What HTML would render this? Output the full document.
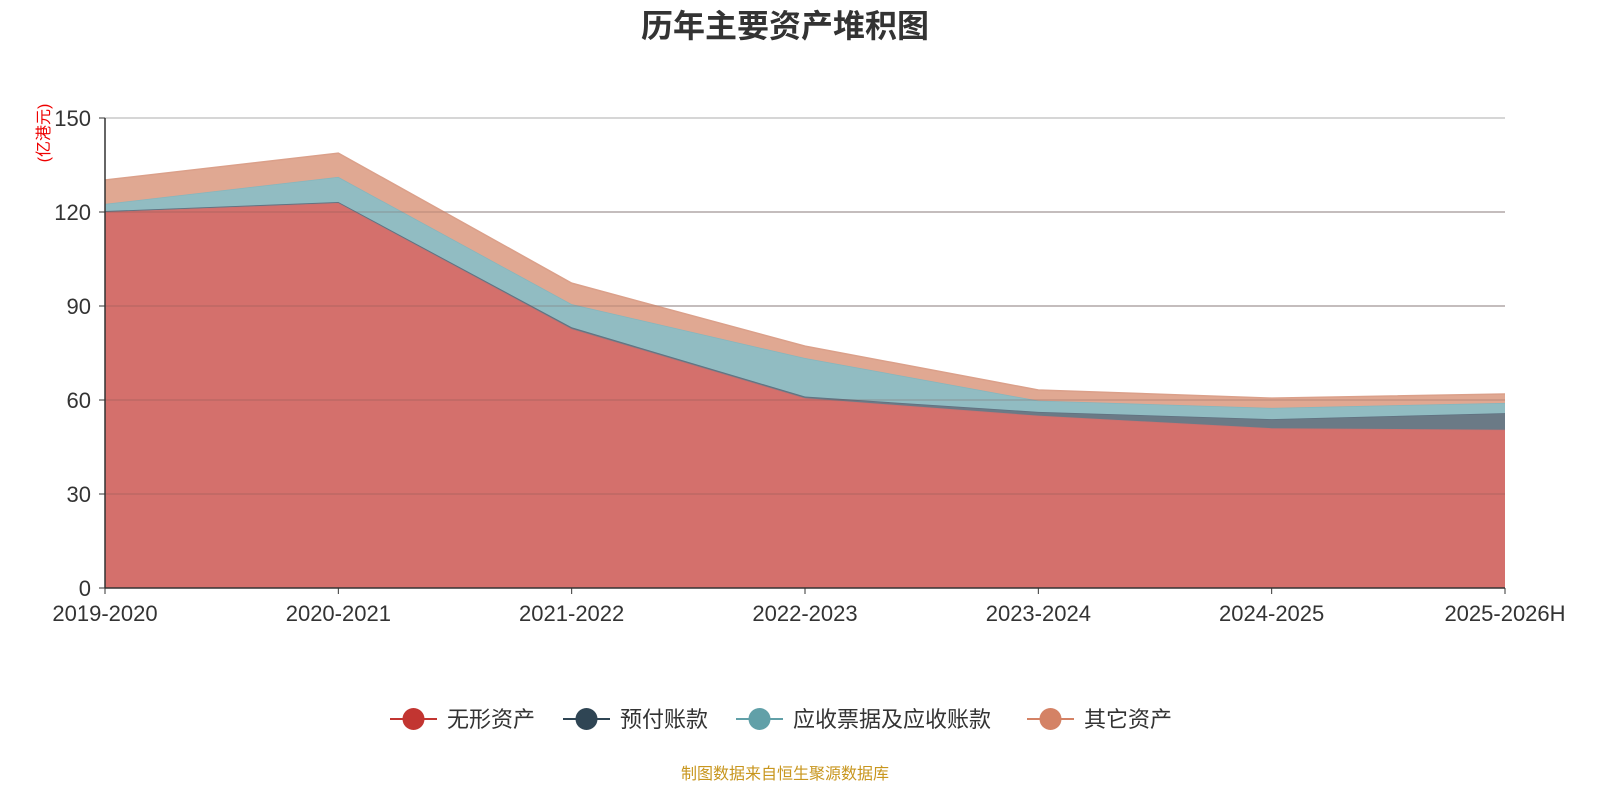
<!DOCTYPE html>
<html><head><meta charset="utf-8"><style>
body{margin:0;background:#fff;width:1600px;height:800px;overflow:hidden;font-family:"Liberation Sans","Noto Sans CJK SC",sans-serif}
</style></head><body>
<svg id="chart" width="1600" height="800" xmlns="http://www.w3.org/2000/svg" font-family="Liberation Sans, Noto Sans CJK SC, sans-serif">
<text x="785" y="37" text-anchor="middle" font-size="32" font-weight="bold" fill="#333">历年主要资产堆积图</text>
<text transform="translate(49,133) rotate(-90)" text-anchor="middle" font-size="16" fill="#e00">(亿港元)</text>
<g id="grid"></g><g id="areas"></g><g id="axes"></g>
<g id="legend"></g>
<text x="785" y="779" text-anchor="middle" font-size="16" fill="#c8961e">制图数据来自恒生聚源数据库</text>
</svg>
<script>
const categories=["2019-2020","2020-2021","2021-2022","2022-2023","2023-2024","2024-2025","2025-2026H"];
const intangible=[120.0,122.9,82.7,60.6,55.0,51.0,50.5];
const prepay=[0.3,0.3,0.5,0.5,1.2,2.9,5.3];
const receivable=[2.3,8.0,7.4,12.3,3.6,3.6,3.3];
const other=[7.6,7.6,6.7,3.8,3.4,3.1,2.8];
const yTicks=[0,30,60,90,120,150];
const seriesNames=["无形资产","预付账款","应收票据及应收账款","其它资产"];
const NS="http://www.w3.org/2000/svg";
const x0=105,x1=1505,y0=588,y1=118,yMax=150;
const X=i=>x0+i*(x1-x0)/(categories.length-1);
const Y=v=>y0-v/yMax*(y0-y1);
function mk(t,a,p){const e=document.createElementNS(NS,t);for(const k in a)e.setAttribute(k,a[k]);p.appendChild(e);return e;}
const grid=document.getElementById('grid'),areas=document.getElementById('areas'),axes=document.getElementById('axes'),legend=document.getElementById('legend');
yTicks.forEach(v=>{
 if(v>0){const l=mk('line',{x1:x0,x2:x1,y1:Y(v),y2:Y(v),stroke:'#c8c8c8','stroke-width':1.5},grid);
 
 }
 const t=mk('text',{x:x0-14,y:Y(v)+8,'text-anchor':'end','font-size':22,fill:'#333'},axes);t.textContent=v;
 
 
 mk('line',{x1:x0-6,x2:x0,y1:Y(v),y2:Y(v),stroke:'#333'},axes);
});
const series=[intangible,prepay,receivable,other];
const fills=["#d4706c","#6b7a86","#91bcc2","#e0a892"];
const lineC=["#c97070","#5f7180","#86b6bd","#dba08a"];
const names=["area-intangible","area-prepay","area-receivable","area-other"];
let base=categories.map(()=>0);
series.forEach((s,k)=>{
 const top=base.map((b,i)=>b+s[i]);
 let d='M'+categories.map((c,i)=>X(i)+','+Y(top[i])).join('L');
 for(let i=categories.length-1;i>=0;i--)d+='L'+X(i)+','+Y(base[i]);
 const p=mk('path',{d:d+'Z',fill:fills[k]},areas);
 
 
 mk('polyline',{points:categories.map((c,i)=>X(i)+','+Y(top[i])).join(' '),fill:'none',stroke:lineC[k],'stroke-width':1.5},areas);
 base=top;
});
yTicks.forEach(v=>{if(v>0&&v<150)mk('line',{x1:x0,x2:x1,y1:Y(v),y2:Y(v),stroke:'rgba(120,80,80,0.25)','stroke-width':1.5},areas);});
mk('line',{x1:x0,x2:x0,y1:y1,y2:y0,stroke:'#333','stroke-width':1.5},axes);
mk('line',{x1:x0,x2:x1,y1:y0,y2:y0,stroke:'#333','stroke-width':1.5},axes);
categories.forEach((c,i)=>{
 mk('line',{x1:X(i),x2:X(i),y1:y0,y2:y0+6,stroke:'#333'},axes);
 const t=mk('text',{x:X(i),y:y0+33,'text-anchor':'middle','font-size':22,fill:'#333'},axes);t.textContent=c;
 
 
});
const legX=[390,563,736,1027],legC=["#c23531","#2f4554","#61a0a8","#d48265"];
seriesNames.forEach((n,k)=>{
 const g=mk('g',{},legend);
 
 
 mk('line',{x1:legX[k],x2:legX[k]+47,y1:719,y2:719,stroke:legC[k],'stroke-width':2},g);
 mk('circle',{cx:legX[k]+23.5,cy:719,r:11,fill:legC[k]},g);
 const t=mk('text',{x:legX[k]+57,y:727,'font-size':22,fill:'#333'},g);t.textContent=n;
});
</script>
</body></html>
